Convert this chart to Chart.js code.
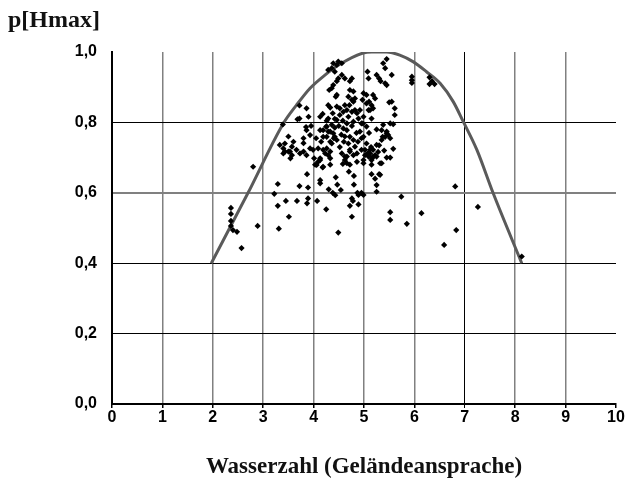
<!DOCTYPE html>
<html>
<head>
<meta charset="utf-8">
<script src="https://cdn.jsdelivr.net/npm/chart.js@4"></script>
<style>
  body { margin: 0; background: #fff; }
  canvas { display: block; }
</style>
</head>
<body>
<canvas id="chart" width="626" height="483"></canvas>
<script>
/* =========================
   DATA
========================= */

// fitted curve
const curveX = [1.97, 2.70, 3.40, 3.66, 3.93, 4.23, 4.52, 4.98, 5.15, 5.45, 5.71, 5.98, 6.24, 6.51, 6.77, 6.97, 7.24, 7.56, 8.13];
const curveY = [0.40, 0.60, 0.797, 0.849, 0.897, 0.935, 0.965, 0.997, 1.0, 1.0, 0.991, 0.972, 0.944, 0.911, 0.859, 0.802, 0.722, 0.60, 0.40];

// observations: [Wasserzahl, p[Hmax]]
const lowPoints = [
  [2.36, 0.557], [2.36, 0.540], [2.36, 0.520], [2.36, 0.506], [2.40, 0.494], [2.48, 0.489],
  [2.57, 0.443], [2.89, 0.506], [2.80, 0.674], [3.29, 0.563], [3.31, 0.498], [3.45, 0.577],
  [3.51, 0.532], [3.67, 0.577], [3.87, 0.570], [4.07, 0.577], [4.25, 0.553], [4.49, 0.487],
  [4.72, 0.563], [4.76, 0.532], [4.78, 0.577], [4.89, 0.567], [5.52, 0.545], [5.52, 0.523],
  [5.85, 0.512], [6.14, 0.542], [6.59, 0.452], [6.81, 0.618], [5.74, 0.589], [7.26, 0.560],
  [6.83, 0.494], [8.13, 0.419], [3.29, 0.625], [3.22, 0.597], [3.72, 0.619], [3.87, 0.653],
  [3.89, 0.584], [3.89, 0.615], [4.13, 0.627], [4.13, 0.636], [4.18, 0.672], [4.33, 0.680],
  [4.30, 0.610], [4.38, 0.600], [4.43, 0.593], [4.44, 0.644], [4.47, 0.623], [4.54, 0.608],
  [4.58, 0.682], [4.62, 0.693], [4.70, 0.660], [4.76, 0.584], [4.80, 0.623], [4.80, 0.648],
  [4.87, 0.600], [4.89, 0.594], [4.95, 0.600], [4.99, 0.594], [5.15, 0.653], [5.25, 0.622],
  [5.25, 0.603], [5.30, 0.653], [5.35, 0.684], [5.32, 0.651], [5.22, 0.640], [3.54, 0.698],
  [4.99, 0.693], [4.03, 0.680], [4.19, 0.674], [4.01, 0.698], [4.06, 0.679], [4.13, 0.693]
];

const midPoints = [
  [3.33, 0.736], [3.40, 0.726], [3.43, 0.717], [3.57, 0.731], [3.53, 0.717], [3.66, 0.722],
  [3.73, 0.712], [3.80, 0.741], [3.93, 0.726], [3.99, 0.722], [4.09, 0.726], [4.19, 0.722],
  [4.23, 0.712], [4.29, 0.707], [4.33, 0.698], [4.13, 0.698], [4.09, 0.688], [3.40, 0.712],
  [3.50, 0.717], [3.57, 0.707], [3.80, 0.717], [3.86, 0.707], [3.80, 0.755], [3.93, 0.764],
  [4.13, 0.778], [4.19, 0.759], [3.43, 0.740], [3.50, 0.760], [3.60, 0.745], [3.95, 0.790],
  [4.05, 0.755], [4.15, 0.745], [3.85, 0.787], [4.56, 0.712], [4.62, 0.703], [4.66, 0.684],
  [4.72, 0.717], [4.79, 0.707], [4.86, 0.688], [4.95, 0.722], [5.02, 0.707], [5.09, 0.703],
  [5.12, 0.712], [5.18, 0.722], [5.25, 0.703], [5.32, 0.684], [5.15, 0.680], [4.99, 0.684],
  [4.72, 0.680], [5.02, 0.722], [5.08, 0.713], [5.14, 0.730], [5.22, 0.707], [5.16, 0.698],
  [5.28, 0.716], [5.40, 0.720], [5.52, 0.700], [5.58, 0.725], [5.45, 0.700]
];

const densePoints = [
  [4.92, 0.835], [4.86, 0.826], [4.89, 0.811], [4.99, 0.816], [4.95, 0.797], [4.76, 0.830],
  [4.69, 0.816], [4.79, 0.802], [4.66, 0.797], [4.59, 0.783], [4.52, 0.821], [4.46, 0.807],
  [4.38, 0.826], [4.29, 0.811], [4.36, 0.793], [4.25, 0.788], [4.19, 0.778], [4.29, 0.774],
  [4.39, 0.769], [4.46, 0.750], [4.36, 0.740], [4.26, 0.726], [4.33, 0.717], [4.66, 0.778],
  [4.72, 0.759], [4.69, 0.740], [4.79, 0.750], [4.82, 0.731], [4.72, 0.722], [4.86, 0.712],
  [4.66, 0.703], [4.99, 0.759], [5.05, 0.740], [5.12, 0.722], [5.18, 0.703], [5.09, 0.707],
  [5.15, 0.693], [5.25, 0.736], [5.35, 0.750], [5.42, 0.759], [5.45, 0.769], [5.35, 0.778],
  [4.98, 0.797], [5.05, 0.788], [4.92, 0.774], [4.95, 0.755], [4.55, 0.765], [4.60, 0.745],
  [4.52, 0.730], [4.42, 0.785], [4.58, 0.805], [4.85, 0.770], [4.88, 0.745], [4.76, 0.790],
  [4.50, 0.790], [4.62, 0.760], [4.40, 0.755], [5.10, 0.770], [5.25, 0.780], [5.30, 0.735]
];

const highPoints = [
  [4.29, 0.949], [4.36, 0.954], [4.42, 0.944], [4.46, 0.963], [4.49, 0.925], [4.36, 0.897],
  [4.31, 0.892], [4.44, 0.873], [4.29, 0.849], [4.33, 0.842], [3.72, 0.848], [3.86, 0.840],
  [3.90, 0.816], [3.72, 0.811], [4.13, 0.816], [4.18, 0.824], [4.26, 0.805], [4.42, 0.810],
  [3.86, 0.778], [4.26, 0.788], [4.33, 0.774], [4.26, 0.759], [4.33, 0.745], [4.42, 0.759],
  [3.68, 0.809], [3.39, 0.794], [4.39, 0.968], [4.49, 0.973], [4.56, 0.968], [4.56, 0.935],
  [4.46, 0.917], [4.39, 0.906], [4.62, 0.925], [4.76, 0.925], [4.72, 0.917], [4.46, 0.878],
  [4.72, 0.892], [4.79, 0.888], [4.82, 0.868], [4.76, 0.864], [4.69, 0.873], [4.46, 0.845],
  [4.52, 0.840], [4.62, 0.849], [4.59, 0.830], [4.79, 0.859], [4.71, 0.849], [4.82, 0.835],
  [4.66, 0.835], [4.99, 0.883], [4.97, 0.864], [5.05, 0.854], [5.09, 0.835], [5.45, 0.980],
  [5.38, 0.968], [5.42, 0.954], [5.25, 0.935], [5.30, 0.925], [5.33, 0.917], [5.55, 0.935],
  [5.07, 0.944], [5.09, 0.925], [5.42, 0.911], [5.45, 0.906], [5.55, 0.859], [5.61, 0.840],
  [5.61, 0.821], [5.05, 0.878], [5.10, 0.859], [5.15, 0.849], [5.12, 0.835], [5.18, 0.840],
  [5.18, 0.878], [5.22, 0.868], [5.15, 0.811], [5.38, 0.793], [5.52, 0.797], [5.45, 0.774],
  [5.50, 0.857], [5.58, 0.795], [5.48, 0.764], [5.52, 0.755], [5.37, 0.759], [5.95, 0.930],
  [5.95, 0.920], [5.95, 0.912], [6.30, 0.928], [6.30, 0.909], [6.40, 0.909], [6.35, 0.917]
];

const xTicks = [0, 1, 2, 3, 4, 5, 6, 7, 8, 9, 10];
const yTicks = [0, 0.2, 0.4, 0.6, 0.8, 1.0];

const yTitle = "p[Hmax]";
const xTitle = "Wasserzahl (Geländeansprache)";


/* =========================
   CHART
========================= */

const toXY = pts => pts.map(p => ({ x: p[0], y: p[1] }));
const allPoints = [...lowPoints, ...midPoints, ...densePoints, ...highPoints];

const cornerTitle = {
  id: "cornerTitle",
  afterDraw(chart) {
    const ctx = chart.ctx;
    ctx.save();
    ctx.fillStyle = "#111";
    ctx.font = "bold 24px 'Liberation Serif', serif";
    ctx.textBaseline = "alphabetic";
    ctx.fillText(yTitle, 8, 27);
    ctx.restore();
  }
};

const tickFont = { family: "'Liberation Sans', Arial, sans-serif", size: 16, weight: "bold" };

new Chart(document.getElementById("chart"), {
  type: "scatter",
  data: {
    datasets: [
      {
        label: "Beobachtungen",
        data: toXY(allPoints),
        pointStyle: "rectRot",
        pointRadius: 3.1,
        pointHoverRadius: 3.1,
        backgroundColor: "#000",
        borderWidth: 0,
        order: 0
      },
      {
        label: "Kurve",
        type: "line",
        data: curveX.map((x, i) => ({ x, y: curveY[i] })),
        borderColor: "#5a5a5a",
        borderWidth: 3,
        pointRadius: 0,
        cubicInterpolationMode: "monotone",
        fill: false,
        order: 1
      }
    ]
  },
  options: {
    responsive: false,
    animation: false,
    layout: { padding: { top: 52, right: 10, bottom: 2, left: 0 } },
    plugins: {
      legend: { display: false },
      tooltip: { enabled: false }
    },
    scales: {
      x: {
        type: "linear",
        min: 0,
        max: 10,
        afterBuildTicks: s => { s.ticks = xTicks.map(v => ({ value: v })); },
        afterFit: s => { s.height = 77; },
        border: { color: "#000", width: 2 },
        grid: {
          color: c => c.tick.value === 10 ? "rgba(0,0,0,0)" : (c.tick.value === 7 ? "#000" : "#808080"),
          lineWidth: c => c.tick.value === 7 ? 1 : 1.5,
          tickColor: "#000",
          tickLength: 4
        },
        ticks: {
          padding: 0,
          color: "#000",
          font: tickFont,
          maxRotation: 0,
          autoSkip: false
        },
        title: {
          display: true,
          text: xTitle,
          color: "#111",
          font: { family: "'Liberation Serif', serif", size: 23, weight: "bold" },
          padding: { top: 0, bottom: 0 }
        }
      },
      y: {
        type: "linear",
        min: 0,
        max: 1,
        afterBuildTicks: s => { s.ticks = yTicks.map(v => ({ value: v })); },
        afterFit: s => { s.width = 112; },
        border: { color: "#000", width: 2 },
        grid: {
          color: c => c.tick.value >= 1 ? "rgba(0,0,0,0)" : (Math.abs(c.tick.value - 0.6) < 1e-6 ? "#808080" : "#000"),
          lineWidth: c => Math.abs(c.tick.value - 0.6) < 1e-6 ? 2 : 1,
          drawTicks: false
        },
        ticks: {
          padding: 15,
          color: "#000",
          font: tickFont,
          callback: v => v.toFixed(1).replace(".", ",")
        }
      }
    }
  },
  plugins: [cornerTitle]
});
</script>
</body>
</html>
